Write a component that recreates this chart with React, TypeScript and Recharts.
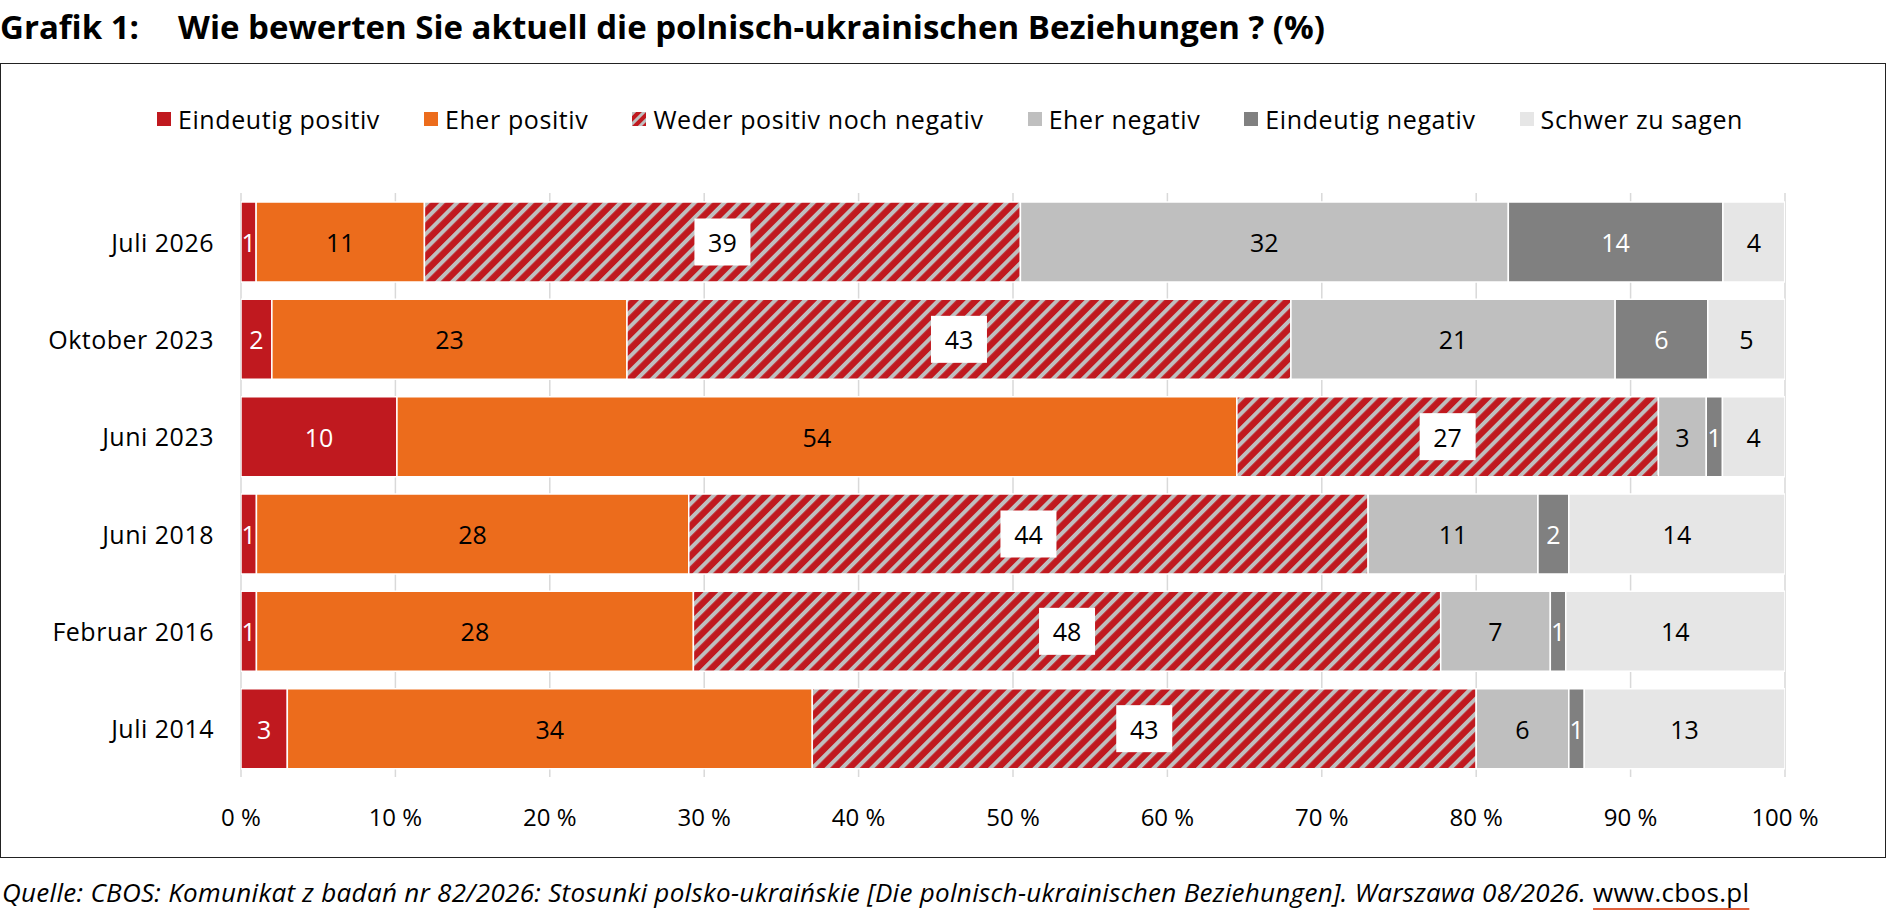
import React from "react";
import {
  Bar,
  BarChart,
  CartesianGrid,
  LabelList,
  XAxis,
  YAxis,
} from "recharts";

// Werte in Prozent (Balkenlänge), Labels gerundet
const PERIODS = [
  "Juli 2026",
  "Oktober 2023",
  "Juni 2023",
  "Juni 2018",
  "Februar 2016",
  "Juli 2014",
];
const EINDEUTIG_POSITIV = [0.98, 2.0, 10.1, 1.0, 1.0, 3.0];
const EHER_POSITIV = [10.9, 23.0, 54.4, 28.0, 28.3, 34.0];
const WEDER_NOCH = [38.6, 43.0, 27.3, 44.0, 48.4, 43.0];
const EHER_NEGATIV = [31.6, 21.0, 3.1, 11.0, 7.1, 6.0];
const EINDEUTIG_NEGATIV = [13.9, 6.0, 1.05, 2.0, 1.0, 1.0];
const SCHWER_ZU_SAGEN = [4.0, 5.0, 4.05, 14.0, 14.2, 13.0];

const X_TICKS = [0, 10, 20, 30, 40, 50, 60, 70, 80, 90, 100];

const SERIES = [
  { key: "ep", name: "Eindeutig positiv", values: EINDEUTIG_POSITIV, fill: "#C0191F", text: "#fff" },
  { key: "hp", name: "Eher positiv", values: EHER_POSITIV, fill: "#EC6C1C", text: "#000" },
  { key: "wn", name: "Weder positiv noch negativ", values: WEDER_NOCH, fill: "url(#hatch)", text: "#000", boxed: true },
  { key: "hn", name: "Eher negativ", values: EHER_NEGATIV, fill: "#BFBFBF", text: "#000" },
  { key: "en", name: "Eindeutig negativ", values: EINDEUTIG_NEGATIV, fill: "#808080", text: "#fff" },
  { key: "sz", name: "Schwer zu sagen", values: SCHWER_ZU_SAGEN, fill: "#E6E6E6", text: "#000" },
];

const data = PERIODS.map((period, i) => {
  const row: any = { period };
  SERIES.forEach((s) => (row[s.key] = s.values[i]));
  return row;
});

const FONT = "'Open Sans', 'Noto Sans', sans-serif";

const makeLabel = (color: string, boxed?: boolean) => (props: any) => {
  const { x, y, width, height, value } = props;
  const cx = x + width / 2;
  const cy = y + height / 2;
  return (
    <g>
      {boxed && <rect x={cx - 28} y={cy - 23.5} width={56} height={47} fill="#fff" />}
      <text
        x={cx}
        y={cy}
        textAnchor="middle"
        dominantBaseline="central"
        fontSize={25}
        fontFamily={FONT}
        fill={color}
      >
        {Math.round(value)}
      </text>
    </g>
  );
};

const XTick = ({ x, y, payload }: any) => (
  <text
    x={x}
    y={y + 39}
    textAnchor="middle"
    dominantBaseline="central"
    fontSize={24}
    fontFamily={FONT}
    fill="#000"
  >
    {`${payload.value} %`}
  </text>
);

const YTick = ({ x, y, payload }: any) => (
  <text
    x={x - 27}
    y={y}
    textAnchor="end"
    dominantBaseline="central"
    fontSize={25}
    letterSpacing={0.5}
    fontFamily={FONT}
    fill="#000"
  >
    {payload.value}
  </text>
);

function Swatch({ fill, id }: { fill: string; id: string }) {
  const hatched = fill.startsWith("url");
  return (
    <svg width={14} height={14} style={{ marginRight: 7, flex: "none" }}>
      {hatched && (
        <defs>
          <pattern id={id} patternUnits="userSpaceOnUse" width={7} height={7} patternTransform="rotate(45)">
            <rect width={7} height={7} fill="#C0191F" />
            <rect width={3} height={7} fill="#BFBFBF" />
          </pattern>
        </defs>
      )}
      <rect width={14} height={14} fill={hatched ? `url(#${id})` : fill} />
    </svg>
  );
}

export default function App() {
  return (
    <div
      style={{
        position: "absolute",
        left: 0,
        top: 0,
        width: 1889,
        height: 921,
        background: "#fff",
        fontFamily: FONT,
        color: "#000",
        overflow: "hidden",
      }}
    >
      <div style={{ position: "absolute", left: 0, top: 8, fontSize: 33, fontWeight: 700, lineHeight: "38px" }}>
        Grafik 1:
      </div>
      <div style={{ position: "absolute", left: 178, top: 8, fontSize: 33, fontWeight: 700, lineHeight: "38px" }}>
        Wie bewerten Sie aktuell die polnisch-ukrainischen Beziehungen ? (%)
      </div>

      <div
        style={{
          position: "absolute",
          left: 0,
          top: 63,
          width: 1886,
          height: 795,
          border: "1.5px solid #222",
          boxSizing: "border-box",
        }}
      />

      <div
        style={{
          position: "absolute",
          left: 0,
          top: 102,
          width: 1900,
          height: 34,
          display: "flex",
          justifyContent: "center",
          alignItems: "center",
          gap: 44,
          fontSize: 25,
          letterSpacing: 0.6,
        }}
      >
        {SERIES.map((s) => (
          <div key={s.key} style={{ display: "flex", alignItems: "center" }}>
            <Swatch fill={s.fill} id={`sw-${s.key}`} />
            <span>{s.name}</span>
          </div>
        ))}
      </div>

      <div style={{ position: "absolute", left: 0, top: 63 }}>
        <BarChart
          width={1886}
          height={795}
          data={data}
          layout="vertical"
          margin={{ top: 130, right: 101, bottom: 21, left: 0 }}
        >
          <defs>
            <pattern id="hatch" patternUnits="userSpaceOnUse" width={10.5} height={10.5} patternTransform="rotate(45)">
              <rect width={10.5} height={10.5} fill="#C0191F" />
              <rect width={4} height={10.5} fill="#BFBFBF" />
            </pattern>
          </defs>
          <CartesianGrid horizontal={false} stroke="#D9D9D9" strokeWidth={1.5} />
          <XAxis
            type="number"
            domain={[0, 100]}
            ticks={X_TICKS}
            allowDataOverflow
            height={60}
            axisLine={false}
            tickLine={false}
            tickSize={0}
            tickMargin={0}
            tick={<XTick />}
            interval={0}
          />
          <YAxis
            type="category"
            dataKey="period"
            width={241}
            axisLine={false}
            tickLine={false}
            tickSize={0}
            tickMargin={0}
            tick={<YTick />}
            interval={0}
          />
          {SERIES.map((s) => (
            <Bar
              key={s.key}
              dataKey={s.key}
              name={s.name}
              stackId="a"
              fill={s.fill}
              stroke="#fff"
              strokeWidth={1.5}
              barSize={80}
              isAnimationActive={false}
            >
              <LabelList dataKey={s.key} content={makeLabel(s.text, s.boxed)} />
            </Bar>
          ))}
        </BarChart>
      </div>

      <div
        style={{
          position: "absolute",
          left: 2,
          top: 876,
          fontSize: 26,
          letterSpacing: 0.3,
          lineHeight: "32px",
          whiteSpace: "nowrap",
        }}
      >
        <span style={{ fontStyle: "italic" }}>
          Quelle: CBOS: Komunikat z badań nr 82/2026: Stosunki polsko-ukraińskie [Die polnisch-ukrainischen
          Beziehungen]. Warszawa 08/2026.{" "}
        </span>
        <span style={{ textDecoration: "underline", textDecorationColor: "#E0603C", textUnderlineOffset: 6 }}>
          www.cbos.pl
        </span>
      </div>
    </div>
  );
}
